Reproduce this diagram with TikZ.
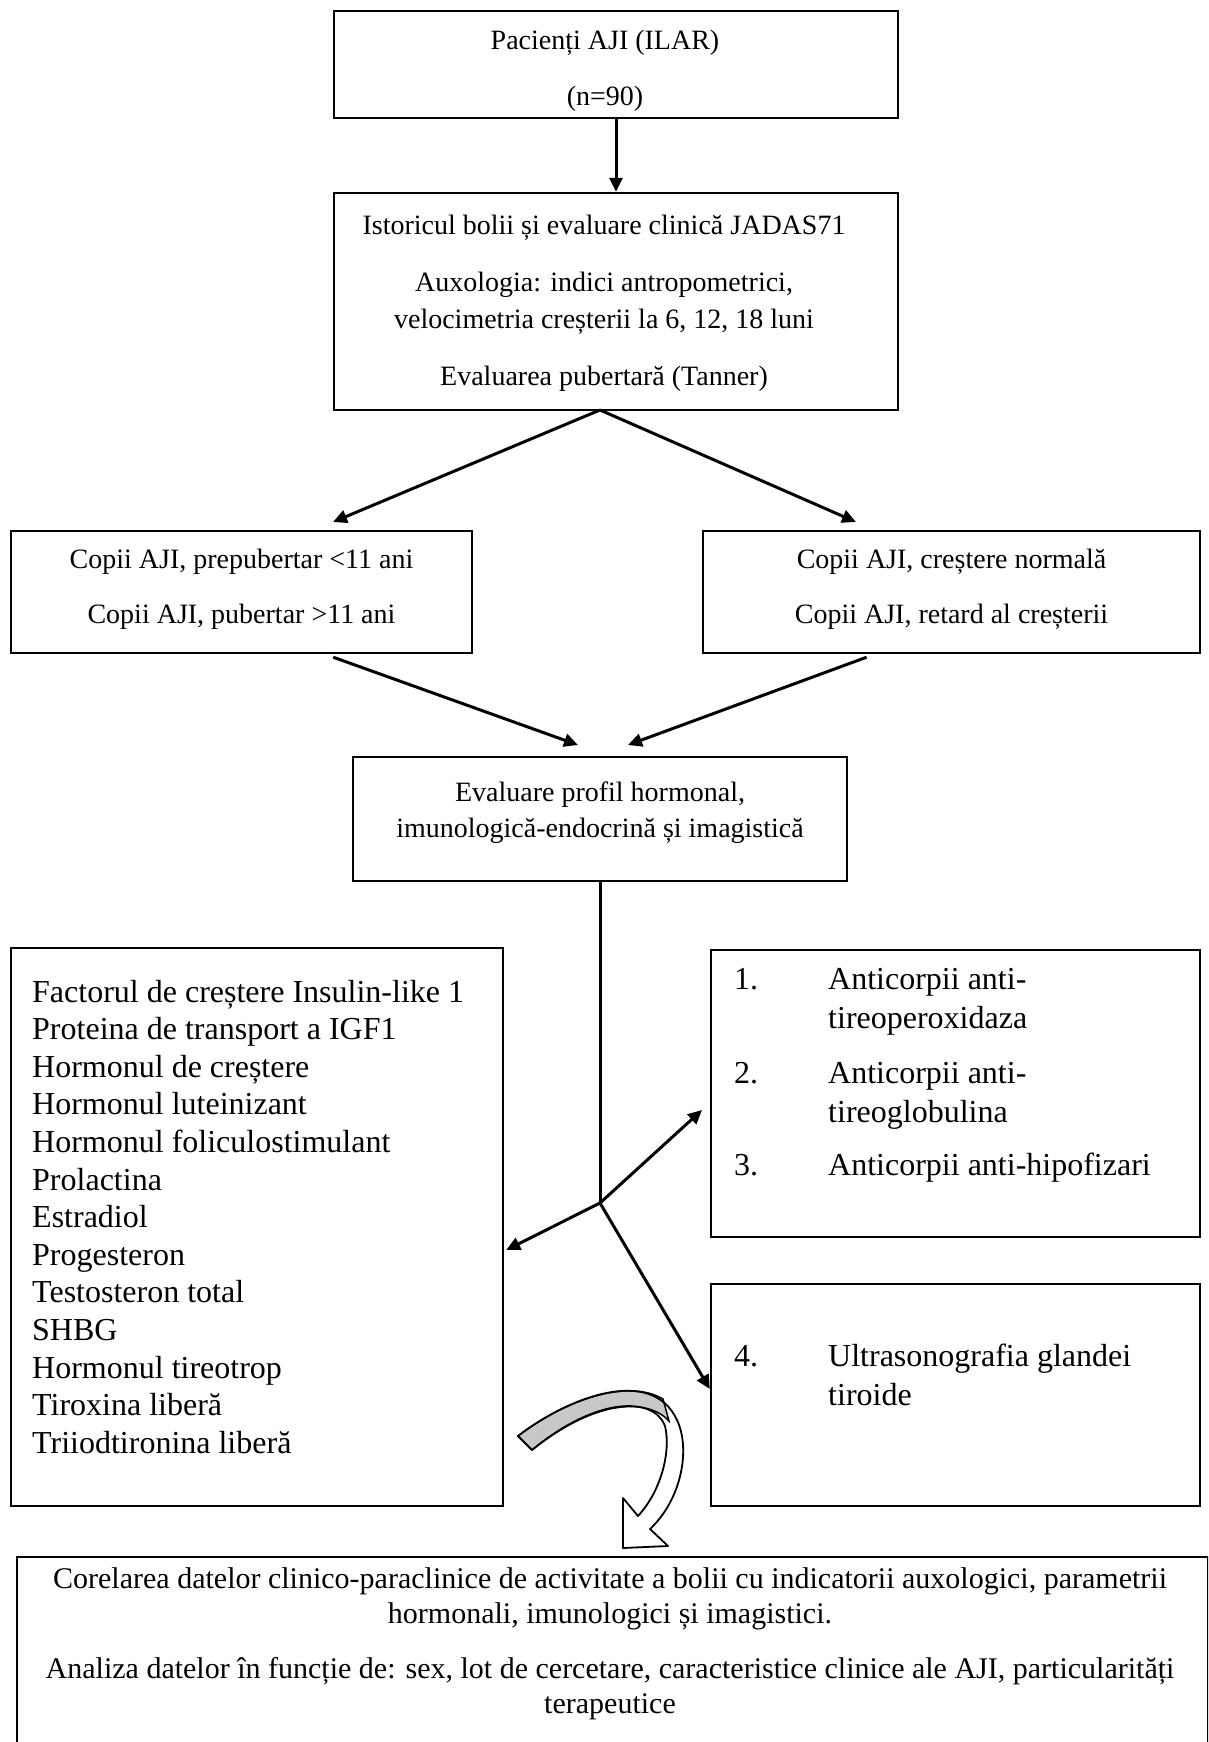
\documentclass[tikz,border=0pt]{standalone}
\usepackage{fontspec}
\setmainfont{Liberation Serif}
\usetikzlibrary{arrows.meta,calc}
\definecolor{bandgray}{RGB}{200,200,200}
\begin{document}
\begin{tikzpicture}[x=1pt,y=-1pt,
  box/.style 2 args={draw,line width=2.4pt,minimum width=#1,minimum height=#2,inner sep=0pt},
  txt/.style={font=\fontsize{28}{33}\selectfont,inner sep=0pt,anchor=base},
  wtxt/.style={font=\fontsize{30}{35}\selectfont,inner sep=0pt,anchor=base},
  btxt/.style={font=\fontsize{32}{37}\selectfont,inner sep=0pt,anchor=base west},
  arr/.style={line width=3pt,-{Triangle[length=14pt,width=13pt]}},
  plain/.style={line width=3pt}]
\useasboundingbox (0,0) rectangle (1208,1742);
\clip (0,0) rectangle (1208,1742);

% box 1
\node[box={564}{107}] (b1) at (616,64.5) {};
\node[txt] (t1a) at (605,50) {Pacienți AJI (ILAR)};
\node[txt] (t1b) at (605,106) {(n=90)};

% box 2
\node[box={564}{217}] (b2) at (616,301.5) {};
\node[txt] (t2a) at (604,234) {Istoricul bolii și evaluare clinică JADAS71};
\node[txt] (t2b) at (604,291) {Auxologia: indici antropometrici,};
\node[txt] (t2c) at (604,328) {velocimetria creșterii la 6, 12, 18 luni};
\node[txt] (t2d) at (604,385) {Evaluarea pubertară (Tanner)};

% box 3 and 4
\node[box={461}{122}] (b3) at (241.5,592) {};
\node[txt] (t3a) at (241.5,568) {Copii AJI, prepubertar <11 ani};
\node[txt] (t3b) at (241.5,623) {Copii AJI, pubertar >11 ani};
\node[box={497}{122}] (b4) at (951.5,592) {};
\node[txt] (t4a) at (951.5,568) {Copii AJI, creștere normală};
\node[txt] (t4b) at (951.5,623) {Copii AJI, retard al creșterii};

% box 5
\node[box={494}{124}] (b5) at (600,819) {};
\node[txt] (t5a) at (600,801) {Evaluare profil hormonal,};
\node[txt] (t5b) at (600,837) {imunologică-endocrină și imagistică};

% left list box
\node[box={492}{558}] (L) at (257,1227) {};
\foreach \s [count=\i from 0] in {Factorul de creștere Insulin-like 1,Proteina de transport a IGF1,Hormonul de creștere,Hormonul luteinizant,Hormonul foliculostimulant,Prolactina,Estradiol,Progesteron,Testosteron total,SHBG,Hormonul tireotrop,Tiroxina liberă,Triiodtironina liberă}
  \node[btxt] (l\i) at (32,1002+37.6*\i) {\s};

% right boxes
\node[box={489}{287}] (R1) at (955.5,1093.5) {};
\node[btxt] (n1) at (734,989) {1.};
\node[btxt] (r1a) at (828,989) {Anticorpii anti-};
\node[btxt] (r1b) at (828,1028) {tireoperoxidaza};
\node[btxt] (n2) at (734,1083) {2.};
\node[btxt] (r2a) at (828,1083) {Anticorpii anti-};
\node[btxt] (r2b) at (828,1122) {tireoglobulina};
\node[btxt] (n3) at (734,1175) {3.};
\node[btxt] (r3a) at (828,1175) {Anticorpii anti-hipofizari};
\node[box={489}{222}] (R2) at (955.5,1395) {};
\node[btxt] (n4) at (734,1366) {4.};
\node[btxt] (r4a) at (828,1366) {Ultrasonografia glandei};
\node[btxt] (r4b) at (828,1405) {tiroide};

% bottom box
\node[box={1191}{240},anchor=north west] (b6) at (16,1556) {};
\node[wtxt] (t6a) at (610,1588) {Corelarea datelor clinico-paraclinice de activitate a bolii cu indicatorii auxologici, parametrii};
\node[wtxt] (t6b) at (610,1623) {hormonali, imunologici și imagistici.};
\node[wtxt] (t6c) at (610,1678) {Analiza datelor în funcție de: sex, lot de cercetare, caracteristice clinice ale AJI, particularități};
\node[wtxt] (t6d) at (610,1713) {terapeutice};

% connectors
\draw[arr] (b1.south) -- (b2.north);
\coordinate (apex) at (600,410);
\coordinate (tip3) at (333,522);
\coordinate (tip4) at (856,522);
\draw[arr] (apex) -- (tip3);
\draw[arr] (apex) -- (tip4);
\coordinate (s3) at ($(b3.south west)!0.698!(b3.south east)+(0,3)$);
\coordinate (s4) at ($(b4.south west)!0.33!(b4.south east)+(0,3)$);
\coordinate (tip5l) at (578,745);
\coordinate (tip5r) at (628,745);
\draw[arr] (s3) -- (tip5l);
\draw[arr] (s4) -- (tip5r);
\coordinate (junc) at (600,1203);
\draw[plain] (b5.south) -- (junc);
\coordinate (tipL) at ($(L.east)+(2,23)$);
\coordinate (tipR1) at (702,1110);
\coordinate (tipR2) at ($(R2.west)+(0,-6)$);
\draw[arr] (junc) -- (tipL);
\draw[arr] (junc) -- (tipR1);
\draw[arr] (junc) -- (tipR2);

% curved block arrow
\fill[bandgray,draw=black,line width=1.5pt]
  (518,1436) .. controls (565,1400) and (628,1378) .. (663,1399)
  -- (669,1421) .. controls (650,1400) and (600,1396) .. (532,1450) -- cycle;
\draw[line width=1.8pt,line join=round]
  (518,1436) .. controls (570,1396) and (652,1366) .. (677,1420)
  .. controls (691,1450) and (681,1500) .. (650,1529)
  -- (668,1546) -- (623,1548) -- (623,1498) -- (638,1516)
  .. controls (662,1490) and (671,1450) .. (665,1426)
  .. controls (655,1398) and (600,1394) .. (532,1450) -- cycle;
\end{tikzpicture}
\end{document}
